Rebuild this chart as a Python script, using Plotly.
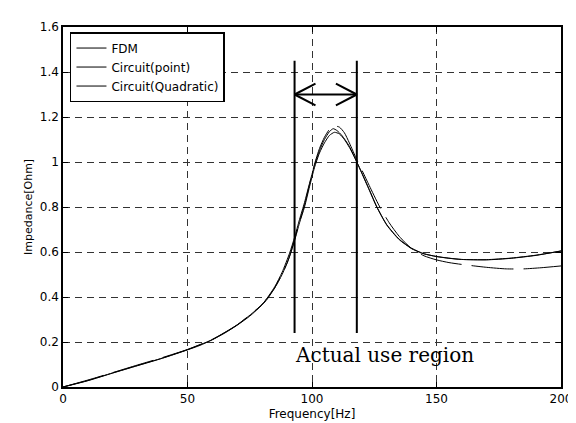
import plotly.graph_objects as go

# ---- data ----
fdm_f = [0, 10, 20, 30, 40, 50, 55, 60, 65, 70, 75, 80, 82, 85, 88, 91, 93, 95, 97, 99,
         101, 103, 105, 107, 109, 111, 113, 115, 118, 120, 123, 126, 130, 135, 140, 144,
         150, 155, 160, 170, 180, 190, 200]
fdm_z = [0, 0.028, 0.062, 0.095, 0.128, 0.165, 0.185, 0.21, 0.24, 0.275, 0.315, 0.365, 0.39,
         0.44, 0.50, 0.58, 0.65, 0.73, 0.80, 0.89, 0.975, 1.04, 1.085, 1.118, 1.132, 1.125,
         1.10, 1.065, 1.0, 0.95, 0.875, 0.80, 0.72, 0.655, 0.615, 0.595, 0.58, 0.572, 0.567,
         0.565, 0.572, 0.585, 0.605]

point_f = [0, 10, 20, 30, 40, 50, 60, 70, 80, 85, 90, 93, 95, 97, 99, 101, 103, 105, 107,
           109, 111, 113, 115, 118, 120, 123, 127, 131, 135, 140, 145, 150, 155, 160, 170,
           178, 185, 192, 200]
point_z = [0, 0.031, 0.064, 0.098, 0.131, 0.167, 0.212, 0.277, 0.368, 0.44, 0.55, 0.655,
           0.735, 0.81, 0.90, 0.99, 1.06, 1.11, 1.145, 1.16, 1.155, 1.13, 1.085, 1.01, 0.965,
           0.895, 0.805, 0.73, 0.67, 0.615, 0.583, 0.565, 0.553, 0.545, 0.532, 0.525, 0.525,
           0.53, 0.538]

quad_f = [0, 10, 20, 30, 40, 50, 60, 70, 80, 85, 88, 91, 93, 95, 97, 99, 101, 103, 105,
          107, 108.5, 110, 112, 115, 118, 120, 123, 126, 130, 135, 140, 145, 150, 160, 170,
          180, 190, 200]
quad_z = [0, 0.029, 0.063, 0.096, 0.129, 0.166, 0.211, 0.276, 0.367, 0.445, 0.51, 0.595,
          0.665, 0.745, 0.82, 0.905, 0.985, 1.05, 1.10, 1.135, 1.148, 1.14, 1.118, 1.07,
          1.0, 0.952, 0.878, 0.802, 0.722, 0.657, 0.617, 0.592, 0.58, 0.567, 0.566, 0.573,
          0.586, 0.604]

# actual use region (Hz) and the marker geometry in data units
region_lo, region_hi = 93, 118
region_bottom, region_top = 0.24, 1.45
arrow_y = 1.3
wing_dx, wing_dy = 8.4, 0.048
label_y = 0.143

x_ticks = [0, 50, 100, 150, 200]
y_ticks = [0, 0.2, 0.4, 0.6, 0.8, 1.0, 1.2, 1.4, 1.6]
y_tick_text = ["0", "0.2", "0.4", "0.6", "0.8", "1", "1.2", "1.4", "1.6"]

fig = go.Figure()
fig.add_trace(go.Scatter(x=fdm_f, y=fdm_z, mode="lines", name="FDM",
                         line=dict(color="black", width=1, shape="spline", smoothing=0.6)))
fig.add_trace(go.Scatter(x=point_f, y=point_z, mode="lines", name="Circuit(point)",
                         line=dict(color="black", width=1, dash="42px,10px", shape="spline", smoothing=0.6)))
fig.add_trace(go.Scatter(x=quad_f, y=quad_z, mode="lines", name="Circuit(Quadratic)",
                         line=dict(color="black", width=1, shape="spline", smoothing=0.6)))

# vertical bars of the region
for xv in (region_lo, region_hi):
    fig.add_trace(go.Scatter(x=[xv, xv], y=[region_bottom, region_top], mode="lines",
                             line=dict(color="black", width=2), showlegend=False, hoverinfo="skip"))
# double arrow
fig.add_trace(go.Scatter(x=[region_lo, region_hi], y=[arrow_y, arrow_y], mode="lines",
                         line=dict(color="black", width=2), showlegend=False, hoverinfo="skip"))
fig.add_trace(go.Scatter(
    x=[region_lo + wing_dx, region_lo, region_lo + wing_dx],
    y=[arrow_y + wing_dy, arrow_y, arrow_y - wing_dy], mode="lines",
    line=dict(color="black", width=2), showlegend=False, hoverinfo="skip"))
fig.add_trace(go.Scatter(
    x=[region_hi - wing_dx, region_hi, region_hi - wing_dx],
    y=[arrow_y + wing_dy, arrow_y, arrow_y - wing_dy], mode="lines",
    line=dict(color="black", width=2), showlegend=False, hoverinfo="skip"))

fig.add_annotation(x=region_lo, y=label_y, xref="x", yref="y", text="Actual use region",
                   showarrow=False, xanchor="left", yanchor="middle", xshift=-2,
                   font=dict(family="DejaVu Serif", size=20, color="black"))

# y-axis title placed as paper annotation for exact placement
fig.add_annotation(x=0, y=0.5, xref="paper", yref="paper", text="Impedance[Ohm]",
                   showarrow=False, textangle=-90, xanchor="center", yanchor="middle",
                   xshift=-35, font=dict(family="DejaVu Sans", size=11, color="black"))

axis_common = dict(showline=True, linecolor="black", linewidth=1.5, mirror="ticks",
                   ticks="inside", ticklen=5, tickcolor="black",
                   showgrid=True, gridcolor="#333333", griddash="7px,5px", gridwidth=1,
                   zeroline=False, tickfont=dict(family="DejaVu Sans", size=12, color="black"))

fig.update_xaxes(range=[0, 200], tickvals=x_ticks, title=dict(text="Frequency[Hz]",
                 font=dict(family="DejaVu Sans", size=12, color="black"), standoff=4),
                 **axis_common)
fig.update_yaxes(range=[0, 1.6], tickvals=y_ticks, ticktext=y_tick_text, **axis_common)

fig.update_layout(
    width=576, height=423,
    margin=dict(l=55, r=21, t=14, b=40),
    paper_bgcolor="white", plot_bgcolor="white",
    showlegend=True,
    legend=dict(x=0.014, y=0.986, xanchor="left", yanchor="top",
                bgcolor="white", bordercolor="black", borderwidth=1.5,
                font=dict(family="DejaVu Sans", size=12, color="black"),
                itemwidth=30, tracegroupgap=0),
)

fig.write_html("out.html")
